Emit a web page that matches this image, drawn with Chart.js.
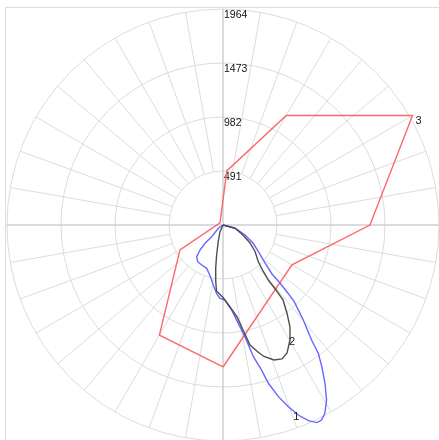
<!DOCTYPE html>
<html>
<head>
<meta charset="utf-8">
<script src="https://cdn.jsdelivr.net/npm/chart.js@4/dist/chart.umd.min.js"></script>
<style>
  html, body { margin: 0; padding: 0; background: #fff; }
  #wrap { width: 439px; height: 440px; }
</style>
</head>
<body>
<div id="wrap"><canvas id="chart" width="439" height="440"></canvas></div>
<script>
// polar data: angle in degrees from nadir (0 = down, + = right), intensity in cd
const radialTicks = [491, 982, 1473, 1964];
const curveNames = ["1", "2", "3"];

const curve1Angles = [-60, -55, -44, -44.5, -42.6, -39.7, -34.6, -28, -20.6, -16.2, -12.7, -9.2, -5.3, -2.3, 1.5, 5.8, 8.8, 11.1, 13, 14.9, 16, 17.9, 19.8, 21.6, 23.6, 25.4, 26.8, 28.4, 30.6, 32.8, 34.9, 36.6, 37.6, 40.2, 43, 43.7, 44.5, 45, 47.9, 53.4, 59, 65.6, 76, 90];
const curve1Values = [0, 52, 148, 233, 309, 374, 405, 412, 421, 457, 497, 553, 626, 667, 682, 777, 905, 1035, 1229, 1365, 1497, 1640, 1756, 1858, 1941, 1989, 1987, 1947, 1850, 1712, 1570, 1453, 1320, 1131, 946, 843, 739, 630, 515, 396, 318, 220, 112, 0];

const curve2Angles = [-30, -24, -16, -12, -9.6, -7.3, -5.6, 0, 4.9, 8.7, 10.8, 12.7, 15.4, 17.3, 20.7, 23.8, 26.6, 30.2, 33.3, 36, 38.7, 39.2, 39.4, 41, 44.2, 50.4, 56.3, 63.4, 74.6, 90];
const curve2Values = [0, 67, 158, 279, 399, 520, 603, 659, 748, 846, 972, 1118, 1198, 1252, 1312, 1331, 1301, 1210, 1109, 989, 873, 763, 659, 554, 457, 378, 295, 203, 113, 0];

const curve3Angles = [0, 60, 90, 120, 150, 176, -125, -60, -30, 0];
const curve3Values = [1291, 724, 1336, 1990, 1150, 493, 33, 452, 1156, 1291];

// which point of each curve carries its number
const labelPoint = [23, 17, 3];

const CX = 223, CY = 225, R_PX = 216;
const R_MAX = radialTicks[radialTicks.length - 1];
const W = 439, H = 440;
const unit = R_MAX / R_PX;

function toXY(angles, values) {
  return angles.map((a, i) => {
    const t = a * Math.PI / 180;
    return { x: values[i] * Math.sin(t), y: -values[i] * Math.cos(t) };
  });
}

const polarGrid = {
  id: "polarGrid",
  beforeDatasetsDraw(chart) {
    const { ctx, scales: { x, y } } = chart;
    const cx = x.getPixelForValue(0), cy = y.getPixelForValue(0);
    const rp = (v) => x.getPixelForValue(v) - cx;
    ctx.save();
    // frame
    ctx.strokeStyle = "#dedede";
    ctx.lineWidth = 1;
    ctx.strokeRect(5.5, 7.5, W, H);
    // circles
    ctx.strokeStyle = "#dcdcdc";
    radialTicks.forEach((v) => {
      ctx.beginPath();
      ctx.arc(cx, cy, rp(v), 0, Math.PI * 2);
      ctx.stroke();
    });
    // spokes every 10 degrees outside first ring
    const r0 = rp(radialTicks[0]), r1 = rp(R_MAX);
    for (let a = 0; a < 360; a += 10) {
      if (a % 90 === 0) continue;
      const t = a * Math.PI / 180;
      ctx.beginPath();
      ctx.moveTo(cx + r0 * Math.cos(t), cy + r0 * Math.sin(t));
      ctx.lineTo(cx + r1 * Math.cos(t), cy + r1 * Math.sin(t));
      ctx.stroke();
    }
    // main axes
    ctx.strokeStyle = "#cfcfcf";
    ctx.lineWidth = 1.5;
    ctx.beginPath();
    ctx.moveTo(cx - r1, cy); ctx.lineTo(cx + r1 + 5, cy);
    ctx.moveTo(cx, cy - r1); ctx.lineTo(cx, cy + r1);
    ctx.stroke();
    // tick labels
    ctx.fillStyle = "#111";
    ctx.font = "10.5px 'Liberation Sans', Arial, sans-serif";
    ctx.textAlign = "left";
    ctx.textBaseline = "top";
    radialTicks.forEach((v) => {
      ctx.fillText(String(v), cx + 1, cy - rp(v) + 1);
    });
    ctx.restore();
  },
  afterDatasetsDraw(chart) {
    const { ctx } = chart;
    ctx.save();
    ctx.fillStyle = "#222";
    ctx.font = "11px 'Liberation Sans', Arial, sans-serif";
    ctx.textBaseline = "middle";
    const offsets = [[-2, 2, "center"], [2, 2, "center"], [3, 5, "left"]];
    chart.data.datasets.forEach((ds, i) => {
      const el = chart.getDatasetMeta(i).data[labelPoint[i]];
      const [dx, dy, align] = offsets[i];
      ctx.textAlign = align;
      ctx.fillText(curveNames[i], el.x + dx, el.y + dy);
    });
    ctx.restore();
  }
};

new Chart(document.getElementById("chart").getContext("2d"), {
  type: "scatter",
  data: {
    datasets: [
      {
        label: curveNames[0],
        data: toXY(curve1Angles, curve1Values),
        borderColor: "rgba(95, 95, 255, 0.95)",
        order: 2,
      },
      {
        label: curveNames[1],
        data: toXY(curve2Angles, curve2Values),
        borderColor: "rgba(70, 70, 70, 0.95)",
        order: 1,
      },
      {
        label: curveNames[2],
        data: toXY(curve3Angles, curve3Values),
        borderColor: "rgba(255, 95, 95, 0.95)",
        order: 3,
      },
    ].map((d) => ({
      ...d,
      showLine: true,
      fill: false,
      pointRadius: 0,
      borderWidth: 1.4,
      tension: 0,
    })),
  },
  options: {
    responsive: false,
    animation: false,
    layout: { padding: 0 },
    plugins: { legend: { display: false }, tooltip: { enabled: false } },
    scales: {
      x: { type: "linear", display: false, min: -CX * unit, max: (W - CX) * unit },
      y: { type: "linear", display: false, min: -(H - CY) * unit, max: CY * unit },
    },
  },
  plugins: [polarGrid],
});
</script>
</body>
</html>
